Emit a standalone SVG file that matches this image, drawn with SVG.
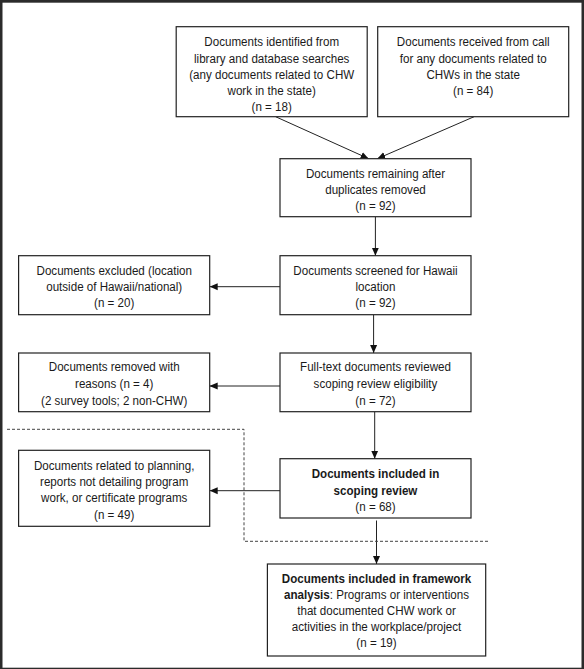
<svg xmlns="http://www.w3.org/2000/svg" width="584" height="669" viewBox="0 0 584 669">
<style>
.box{fill:#fff;stroke:#222;stroke-width:1.2}
.t{font-family:"Liberation Sans",Arial,sans-serif;font-size:13.5px;fill:#1a1a1a;text-anchor:middle}
.b{font-weight:bold}
.ln{stroke:#222;stroke-width:1;fill:none}
.dash{stroke:#444;stroke-width:1;fill:none;stroke-dasharray:3 2}
</style>
<defs>
<marker id="ah" markerUnits="userSpaceOnUse" markerWidth="8" markerHeight="8" refX="8" refY="4" orient="auto">
<path d="M0,0.5 L8,4 L0,7.5 z" fill="#111"/>
</marker>
</defs>
<rect x="0" y="0" width="584" height="669" fill="#2b2b2b"/>
<rect x="2.5" y="2.7" width="579" height="665" fill="#fff"/>

<g id="connectors">
<line class="ln" x1="275.6" y1="116.7" x2="368.7" y2="158.7" marker-end="url(#ah)"/>
<line class="ln" x1="474.1" y1="116.7" x2="377.3" y2="158.7" marker-end="url(#ah)"/>
<line class="ln" x1="375.4" y1="216.7" x2="375.4" y2="255.7" marker-end="url(#ah)"/>
<line class="ln" x1="280" y1="286.7" x2="209.7" y2="286.7" marker-end="url(#ah)"/>
<line class="ln" x1="373.6" y1="314.7" x2="373.6" y2="353" marker-end="url(#ah)"/>
<line class="ln" x1="280" y1="386" x2="209.7" y2="386" marker-end="url(#ah)"/>
<line class="ln" x1="374.7" y1="411.7" x2="374.7" y2="458.7" marker-end="url(#ah)"/>
<line class="ln" x1="280" y1="490.7" x2="209.7" y2="490.7" marker-end="url(#ah)"/>
<line class="ln" x1="376.5" y1="520.5" x2="376.5" y2="564" marker-end="url(#ah)"/>
<polyline class="dash" points="7,429.3 244,429.3 244,541.3 489,541.3"/>
</g>

<g id="n-library">
<rect class="box" x="176.2" y="26.7" width="191" height="90"/>
<g transform="translate(271.7 0) scale(0.86 1)">
<text class="t" x="0" y="46.5">Documents identified from</text>
<text class="t" x="0" y="62.7">library and database searches</text>
<text class="t" x="0" y="78.9">(any documents related to CHW</text>
<text class="t" x="0" y="95.1">work in the state)</text>
<text class="t" x="0" y="111.3">(n = 18)</text>
</g>
</g>

<g id="n-call">
<rect class="box" x="377.7" y="26.7" width="191" height="90"/>
<g transform="translate(473.2 0) scale(0.86 1)">
<text class="t" x="0" y="46.5">Documents received from call</text>
<text class="t" x="0" y="62.7">for any documents related to</text>
<text class="t" x="0" y="78.9">CHWs in the state</text>
<text class="t" x="0" y="95.1">(n = 84)</text>
</g>
</g>

<g id="n-remaining">
<rect class="box" x="280" y="158.7" width="191" height="58"/>
<g transform="translate(375.5 0) scale(0.86 1)">
<text class="t" x="0" y="178.3">Documents remaining after</text>
<text class="t" x="0" y="194.3">duplicates removed</text>
<text class="t" x="0" y="210.3">(n = 92)</text>
</g>
</g>

<g id="n-screened">
<rect class="box" x="280" y="255.7" width="191" height="59"/>
<g transform="translate(375.5 0) scale(0.86 1)">
<text class="t" x="0" y="275">Documents screened for Hawaii</text>
<text class="t" x="0" y="291.5">location</text>
<text class="t" x="0" y="307.5">(n = 92)</text>
</g>
</g>

<g id="n-excluded">
<rect class="box" x="18.6" y="255.7" width="191.1" height="59"/>
<g transform="translate(114.2 0) scale(0.86 1)">
<text class="t" x="0" y="275">Documents excluded (location</text>
<text class="t" x="0" y="291.5">outside of Hawaii/national)</text>
<text class="t" x="0" y="307.5">(n = 20)</text>
</g>
</g>

<g id="n-fulltext">
<rect class="box" x="280" y="353" width="191" height="58.7"/>
<g transform="translate(375.5 0) scale(0.86 1)">
<text class="t" x="0" y="371.5">Full-text documents reviewed</text>
<text class="t" x="0" y="388">scoping review eligibility</text>
<text class="t" x="0" y="404.7">(n = 72)</text>
</g>
</g>

<g id="n-removed">
<rect class="box" x="18.6" y="353" width="191.1" height="58.7"/>
<g transform="translate(114.2 0) scale(0.86 1)">
<text class="t" x="0" y="371.5">Documents removed with</text>
<text class="t" x="0" y="388">reasons (n = 4)</text>
<text class="t" x="0" y="404.7">(2 survey tools; 2 non-CHW)</text>
</g>
</g>

<g id="n-included">
<rect class="box" x="280" y="458.7" width="191" height="59.3"/>
<g transform="translate(375.5 0) scale(0.86 1)">
<text class="t b" x="0" y="478">Documents included in</text>
<text class="t b" x="0" y="494.7">scoping review</text>
<text class="t" x="0" y="510.7">(n = 68)</text>
</g>
</g>

<g id="n-planning">
<rect class="box" x="18.6" y="450.3" width="191.1" height="76"/>
<g transform="translate(114.2 0) scale(0.86 1)">
<text class="t" x="0" y="469.8">Documents related to planning,</text>
<text class="t" x="0" y="486.3">reports not detailing program</text>
<text class="t" x="0" y="502.5">work, or certificate programs</text>
<text class="t" x="0" y="518.8">(n = 49)</text>
</g>
</g>

<g id="n-framework">
<rect class="box" x="267.4" y="564" width="218.3" height="92"/>
<g transform="translate(376.5 0) scale(0.86 1)">
<text class="t b" x="0" y="583">Documents included in framework</text>
<text class="t" x="0" y="599"><tspan class="b">analysis</tspan>: Programs or interventions</text>
<text class="t" x="0" y="615">that documented CHW work or</text>
<text class="t" x="0" y="631.3">activities in the workplace/project</text>
<text class="t" x="0" y="647.5">(n = 19)</text>
</g>
</g>
</svg>
